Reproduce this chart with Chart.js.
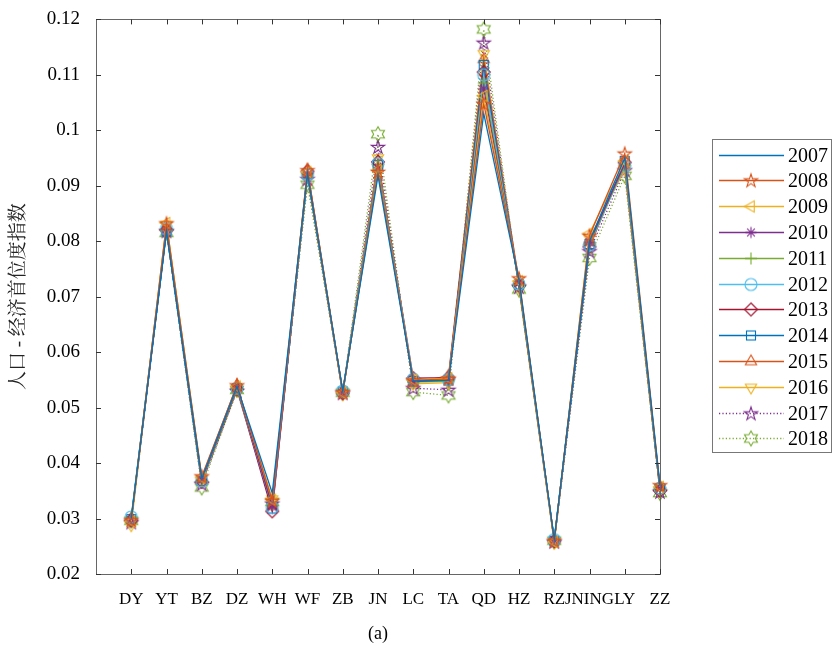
<!DOCTYPE html>
<html>
<head>
<meta charset="utf-8">
<script src="https://cdn.jsdelivr.net/npm/chart.js@4.4.1/dist/chart.umd.min.js"></script>
<style>
html,body{margin:0;padding:0;background:#fff;}
canvas{display:block;}
</style>
</head>
<body>
<canvas id="c" width="835" height="648"></canvas>
<script>
// ---- data ----
const categories = ['DY','YT','BZ','DZ','WH','WF','ZB','JN','LC','TA','QD','HZ','RZ','JNING','LY','ZZ'];
const years = ['2007','2008','2009','2010','2011','2012','2013','2014','2015','2016','2017','2018'];
const yTicks = [0.02,0.03,0.04,0.05,0.06,0.07,0.08,0.09,0.10,0.11,0.12];

const v2007 = [0.0300,0.0818,0.0372,0.0538,0.0346,0.0922,0.0530,0.0918,0.0548,0.0549,0.1030,0.0730,0.0262,0.0800,0.0950,0.0358];
const v2008 = [0.0297,0.0832,0.0376,0.0540,0.0332,0.0928,0.0528,0.0925,0.0549,0.0552,0.1048,0.0733,0.0260,0.0810,0.0958,0.0360];
const v2009 = [0.0295,0.0833,0.0374,0.0538,0.0334,0.0925,0.0527,0.0928,0.0550,0.0553,0.1062,0.0728,0.0258,0.0814,0.0945,0.0357];
const v2010 = [0.0298,0.0822,0.0370,0.0536,0.0322,0.0921,0.0526,0.0932,0.0547,0.0550,0.1075,0.0725,0.0261,0.0798,0.0940,0.0354];
const v2011 = [0.0302,0.0820,0.0368,0.0534,0.0325,0.0918,0.0528,0.0936,0.0546,0.0548,0.1085,0.0722,0.0263,0.0795,0.0938,0.0352];
const v2012 = [0.0303,0.0823,0.0368,0.0535,0.0320,0.0920,0.0530,0.0940,0.0551,0.0551,0.1100,0.0723,0.0262,0.0793,0.0936,0.0355];
const v2013 = [0.0297,0.0820,0.0366,0.0533,0.0313,0.0926,0.0526,0.0943,0.0553,0.0554,0.1105,0.0720,0.0259,0.0790,0.0942,0.0350];
const v2014 = [0.0299,0.0818,0.0368,0.0535,0.0318,0.0922,0.0529,0.0938,0.0548,0.0549,0.1118,0.0722,0.0260,0.0795,0.0945,0.0353];
const v2015 = [0.0300,0.0826,0.0372,0.0541,0.0322,0.0929,0.0530,0.0945,0.0545,0.0557,0.1128,0.0727,0.0262,0.0800,0.0935,0.0356];
const v2016 = [0.0288,0.0830,0.0370,0.0532,0.0335,0.0917,0.0524,0.0950,0.0543,0.0545,0.1138,0.0716,0.0256,0.0805,0.0930,0.0350];
const v2017 = [0.0293,0.0818,0.0362,0.0530,0.0327,0.0912,0.0526,0.0970,0.0535,0.0532,0.1158,0.0718,0.0258,0.0782,0.0928,0.0348];
const v2018 = [0.0296,0.0815,0.0356,0.0532,0.0330,0.0902,0.0527,0.0993,0.0528,0.0522,0.1182,0.0713,0.0260,0.0770,0.0918,0.0346];
const seriesValues = [v2007,v2008,v2009,v2010,v2011,v2012,v2013,v2014,v2015,v2016,v2017,v2018];

// ---- styles ----
const colors = ['#0072BD','#D95319','#EDB120','#7E2F8E','#77AC30','#4DBEEE','#A2142F','#0072BD','#D95319','#EDB120','#7E2F8E','#77AC30'];
const markers = ['none','pentagram','left','asterisk','plus','circle','diamond','square','up','down','pentagram','hexagram'];
const dotted = [false,false,false,false,false,false,false,false,false,false,true,true];

function starPath(ctx, cx, cy, n, R, r, rot) {
  ctx.beginPath();
  for (let i = 0; i < 2*n; i++) {
    const a = rot + i*Math.PI/n;
    const rr = (i % 2 === 0) ? R : r;
    const x = cx + rr*Math.cos(a), y = cy + rr*Math.sin(a);
    if (i === 0) ctx.moveTo(x, y); else ctx.lineTo(x, y);
  }
  ctx.closePath();
}
function makeMarker(type, color) {
  const c = document.createElement('canvas');
  c.width = 20; c.height = 20;
  const ctx = c.getContext('2d');
  ctx.strokeStyle = color; ctx.lineWidth = 1.1;
  const cx = 10, cy = 10;
  const tri = (angles, R) => {
    ctx.beginPath();
    angles.forEach((a, i) => {
      const x = cx + R*Math.cos(a), y = cy + R*Math.sin(a);
      if (i === 0) ctx.moveTo(x, y); else ctx.lineTo(x, y);
    });
    ctx.closePath(); ctx.stroke();
  };
  const d = Math.PI/180;
  switch (type) {
    case 'pentagram': starPath(ctx, cx, cy+0.5, 5, 7, 7*0.382, -90*d); ctx.stroke(); break;
    case 'hexagram': starPath(ctx, cx, cy, 6, 7.5, 7.5*0.577, -90*d); ctx.stroke(); break;
    case 'left': tri([180*d, 60*d, -60*d], 6.5); break;
    case 'up': tri([-90*d, 30*d, 150*d], 6.5); break;
    case 'down': tri([90*d, -30*d, -150*d], 6.5); break;
    case 'asterisk':
      ctx.beginPath();
      for (let i = 0; i < 4; i++) {
        const a = i*45*d;
        ctx.moveTo(cx - 5.5*Math.cos(a), cy - 5.5*Math.sin(a));
        ctx.lineTo(cx + 5.5*Math.cos(a), cy + 5.5*Math.sin(a));
      }
      ctx.stroke(); break;
    case 'plus':
      ctx.beginPath();
      ctx.moveTo(cx-6, cy); ctx.lineTo(cx+6, cy);
      ctx.moveTo(cx, cy-6); ctx.lineTo(cx, cy+6);
      ctx.stroke(); break;
    case 'circle': ctx.beginPath(); ctx.arc(cx, cy, 6, 0, 2*Math.PI); ctx.stroke(); break;
    case 'diamond': tri([-90*d, 0, 90*d, 180*d], 6.5); break;
    case 'square': ctx.strokeRect(cx-4.5, cy-4.5, 9, 9); break;
    default: break;
  }
  return c;
}
const markerImgs = markers.map((m, i) => m === 'none' ? null : makeMarker(m, colors[i]));

const serif = "'Liberation Serif','Times New Roman',serif";

const datasets = years.map((y, i) => ({
  label: y,
  data: seriesValues[i].map((v, k) => ({x: k+1, y: v})),
  borderColor: colors[i],
  backgroundColor: colors[i],
  borderWidth: 1.3,
  borderDash: dotted[i] ? [1.2, 2.2] : [],
  pointStyle: markerImgs[i] || 'circle',
  pointRadius: markerImgs[i] ? 6 : 0,
  pointHoverRadius: markerImgs[i] ? 6 : 0,
  tension: 0,
  fill: false,
  clip: false
}));

const boxPlugin = {
  id: 'boxPlugin',
  afterDraw(chart) {
    const {ctx, chartArea: a, scales} = chart;
    ctx.save();
    ctx.strokeStyle = '#666';
    ctx.lineWidth = 1;
    ctx.strokeRect(Math.round(a.left)+0.5, Math.round(a.top)+0.5, Math.round(a.right-a.left), Math.round(a.bottom-a.top));
    ctx.strokeStyle = '#333';
    ctx.beginPath();
    const tl = 5;
    categories.forEach((c, i) => {
      const x = Math.round(scales.x.getPixelForValue(i+1)) + 0.5;
      ctx.moveTo(x, a.bottom); ctx.lineTo(x, a.bottom - tl);
      ctx.moveTo(x, a.top); ctx.lineTo(x, a.top + tl);
    });
    yTicks.forEach(v => {
      const y = Math.round(scales.y.getPixelForValue(v)) + 0.5;
      ctx.moveTo(a.left, y); ctx.lineTo(a.left + tl, y);
      ctx.moveTo(a.right, y); ctx.lineTo(a.right - tl, y);
    });
    ctx.stroke();

    // legend
    const lx = 712, ly = 139, lw = 119, lh = 313;
    ctx.fillStyle = '#fff';
    ctx.fillRect(lx, ly, lw, lh);
    ctx.strokeStyle = '#777';
    ctx.strokeRect(lx+0.5, ly+0.5, lw, lh);
    ctx.font = '20px ' + serif;
    ctx.textBaseline = 'middle';
    ctx.textAlign = 'left';
    years.forEach((yr, i) => {
      const y = Math.round(ly + 15.5 + i*25.8) + 0.5;
      ctx.strokeStyle = colors[i];
      ctx.lineWidth = 1.3;
      ctx.setLineDash(dotted[i] ? [1.2, 2.2] : []);
      ctx.beginPath(); ctx.moveTo(719, y); ctx.lineTo(784, y); ctx.stroke();
      ctx.setLineDash([]);
      if (markerImgs[i]) {
        ctx.drawImage(markerImgs[i], 751-10, y-10);
      }
      ctx.fillStyle = '#000';
      ctx.fillText(yr, 788, y+1);
    });
    ctx.restore();
  }
};

new Chart(document.getElementById('c'), {
  type: 'line',
  data: {datasets},
  options: {
    responsive: false,
    animation: false,
    events: [],
    layout: {padding: {left: 0, top: 19, right: 175, bottom: 0}},
    plugins: {legend: {display: false}, tooltip: {enabled: false}},
    scales: {
      x: {
        type: 'linear', min: 0, max: 16,
        afterBuildTicks: (axis) => { axis.ticks = categories.map((c, i) => ({value: i+1})); },
        ticks: {
          autoSkip: false, maxRotation: 0, minRotation: 0, padding: 7,
          color: '#000', font: {family: serif, size: 17},
          callback: (v) => categories[Math.round(v)-1] || ''
        },
        grid: {display: false},
        border: {display: false},
        title: {display: true, text: '(a)', color: '#000', font: {family: serif, size: 18}, padding: {top: 0, bottom: 3}},
        afterFit: (s) => { s.height = 74; }
      },
      y: {
        min: 0.02, max: 0.12,
        afterBuildTicks: (axis) => { axis.ticks = yTicks.map(v => ({value: v})); },
        ticks: {
          padding: 8, color: '#000', font: {family: serif, size: 19},
          callback: (v) => String(parseFloat(Number(v).toFixed(2)))
        },
        grid: {display: false},
        border: {display: false},
        title: {display: true, text: '人口 - 经济首位度指数', color: '#222',
          font: {family: "'Liberation Serif','Noto Serif CJK SC','Noto Sans CJK SC',serif", size: 19},
          padding: {top: 8, bottom: 0}},
        afterFit: (s) => { s.width = 96; }
      }
    }
  },
  plugins: [boxPlugin]
});
</script>
</body>
</html>
